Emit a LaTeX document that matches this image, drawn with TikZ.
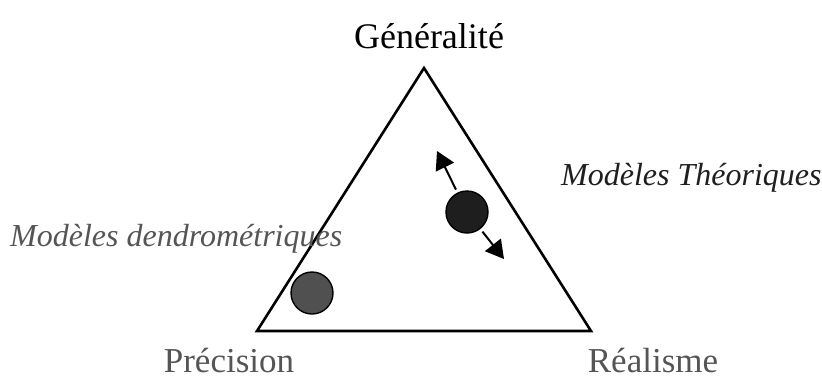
\documentclass[tikz,border=0pt]{standalone}
\usepackage{fontspec}
\setmainfont{Liberation Serif}
\usetikzlibrary{arrows.meta}
\definecolor{txtgray}{HTML}{555555}
\definecolor{darkdot}{HTML}{1E1E1E}
\definecolor{graydot}{HTML}{505050}
\begin{document}
\begin{tikzpicture}[x=1pt,y=-1pt,
  lbl/.style={inner sep=0pt,anchor=base,font=\fontsize{36}{40}\selectfont},
  ital/.style={inner sep=0pt,anchor=base west,font=\fontsize{32}{36}\selectfont\itshape},
  edge/.style={line width=2.6pt,line join=miter},
  dot/.style={circle,draw=black,line width=1.4pt,minimum size=42pt,inner sep=0pt},
  arr/.style={line width=2pt,-{Triangle[length=18pt,width=20pt]}}]
\useasboundingbox (0,0) rectangle (822,381);
\coordinate (A) at (424,68);
\coordinate (B) at (257,331);
\coordinate (C) at (591,331);
\draw[edge] (A) -- (B) -- (C) -- cycle;
\node[dot,fill=darkdot] (dark) at (467,212) {};
\node[dot,fill=graydot] (gray) at (312,293) {};
\coordinate (t1) at (437,151);
\coordinate (t2) at (504,259);
\draw[arr,shorten <=25pt] (dark.center) -- (t1);
\draw[arr,shorten <=25pt] (dark.center) -- (t2);
\node[lbl] (gen) at (429,48) {Généralité};
\node[lbl,text=txtgray,font=\fontsize{35}{40}\selectfont] (pre) at (229,372) {Précision};
\node[lbl,text=txtgray,font=\fontsize{35}{40}\selectfont] (rea) at (653,372) {Réalisme};
\node[ital,text=txtgray] (dendro) at (10,246) {Modèles dendrométriques};
\node[ital,text=black!88] (theo) at (561,185) {Modèles Théoriques};
\end{tikzpicture}
\end{document}
